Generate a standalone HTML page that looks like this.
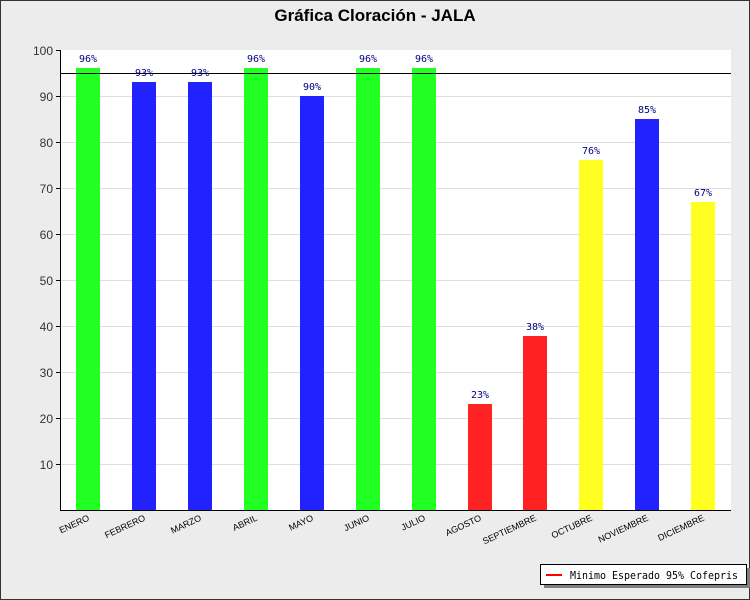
<!DOCTYPE html>
<html><head><style>
html,body{margin:0;padding:0;width:750px;height:600px;background:#ececec;overflow:hidden}
svg{display:block}
</style></head><body>
<svg width="750" height="600" xmlns="http://www.w3.org/2000/svg" font-family="Liberation Sans, sans-serif">
<rect x="0" y="0" width="750" height="600" fill="#ececec"/>
<rect x="0.5" y="0.5" width="749" height="599" fill="none" stroke="#333"/>
<text x="375" y="21" text-anchor="middle" font-size="17" font-weight="bold" fill="#000">Gráfica Cloración - JALA</text>
<rect x="60" y="50" width="671" height="460" fill="#fff"/>
<g stroke="#ddd" stroke-width="1">
<line x1="60" x2="731" y1="96.5" y2="96.5"/><line x1="60" x2="731" y1="142.5" y2="142.5"/>
<line x1="60" x2="731" y1="188.5" y2="188.5"/><line x1="60" x2="731" y1="234.5" y2="234.5"/>
<line x1="60" x2="731" y1="280.5" y2="280.5"/><line x1="60" x2="731" y1="326.5" y2="326.5"/>
<line x1="60" x2="731" y1="372.5" y2="372.5"/><line x1="60" x2="731" y1="418.5" y2="418.5"/>
<line x1="60" x2="731" y1="464.5" y2="464.5"/>
</g>
<g>
<rect x="76" y="68" width="24" height="442" fill="#22ff22"/>
<rect x="132" y="82" width="24" height="428" fill="#2222ff"/>
<rect x="188" y="82" width="24" height="428" fill="#2222ff"/>
<rect x="244" y="68" width="24" height="442" fill="#22ff22"/>
<rect x="300" y="96" width="24" height="414" fill="#2222ff"/>
<rect x="356" y="68" width="24" height="442" fill="#22ff22"/>
<rect x="412" y="68" width="24" height="442" fill="#22ff22"/>
<rect x="468" y="404" width="24" height="106" fill="#ff2222"/>
<rect x="523" y="336" width="24" height="174" fill="#ff2222"/>
<rect x="579" y="160" width="24" height="350" fill="#ffff22"/>
<rect x="635" y="119" width="24" height="391" fill="#2222ff"/>
<rect x="691" y="202" width="24" height="308" fill="#ffff22"/>
</g>
<line x1="60" x2="731" y1="73.5" y2="73.5" stroke="#000" stroke-width="1"/>
<g font-size="10" fill="#000080" text-anchor="middle" font-family="DejaVu Sans Mono, monospace">
<text x="88" y="62">96%</text><text x="144" y="76">93%</text><text x="200" y="76">93%</text>
<text x="256" y="62">96%</text><text x="312" y="90">90%</text><text x="368" y="62">96%</text>
<text x="424" y="62">96%</text><text x="480" y="398">23%</text><text x="535" y="330">38%</text>
<text x="591" y="154">76%</text><text x="647" y="113">85%</text><text x="703" y="196">67%</text>
</g>
<line x1="60.5" y1="50" x2="60.5" y2="510" stroke="#000"/>
<line x1="60" y1="510.5" x2="731" y2="510.5" stroke="#000"/>
<g stroke="#000">
<line x1="56" x2="60" y1="50.5" y2="50.5"/><line x1="56" x2="60" y1="96.5" y2="96.5"/>
<line x1="56" x2="60" y1="142.5" y2="142.5"/><line x1="56" x2="60" y1="188.5" y2="188.5"/>
<line x1="56" x2="60" y1="234.5" y2="234.5"/><line x1="56" x2="60" y1="280.5" y2="280.5"/>
<line x1="56" x2="60" y1="326.5" y2="326.5"/><line x1="56" x2="60" y1="372.5" y2="372.5"/>
<line x1="56" x2="60" y1="418.5" y2="418.5"/><line x1="56" x2="60" y1="464.5" y2="464.5"/>
</g>
<g font-size="12" fill="#333" text-anchor="end">
<text x="53" y="55">100</text><text x="53" y="101">90</text><text x="53" y="147">80</text>
<text x="53" y="193">70</text><text x="53" y="239">60</text><text x="53" y="285">50</text>
<text x="53" y="331">40</text><text x="53" y="377">30</text><text x="53" y="423">20</text>
<text x="53" y="469">10</text>
</g>
<g font-size="9" fill="#000" text-anchor="end">
<text transform="translate(90,520) rotate(-25)">ENERO</text>
<text transform="translate(146,520) rotate(-25)">FEBRERO</text>
<text transform="translate(202,520) rotate(-25)">MARZO</text>
<text transform="translate(258,520) rotate(-25)">ABRIL</text>
<text transform="translate(314,520) rotate(-25)">MAYO</text>
<text transform="translate(370,520) rotate(-25)">JUNIO</text>
<text transform="translate(426,520) rotate(-25)">JULIO</text>
<text transform="translate(482,520) rotate(-25)">AGOSTO</text>
<text transform="translate(537,520) rotate(-25)">SEPTIEMBRE</text>
<text transform="translate(593,520) rotate(-25)">OCTUBRE</text>
<text transform="translate(649,520) rotate(-25)">NOVIEMBRE</text>
<text transform="translate(705,520) rotate(-25)">DICIEMBRE</text>
</g>
<rect x="544" y="568" width="206" height="20" fill="#808080"/>
<rect x="540.5" y="564.5" width="206" height="20" fill="#fff" stroke="#000"/>
<line x1="546" x2="562" y1="575" y2="575" stroke="#ff0000" stroke-width="2"/>
<text x="570" y="579" font-size="11" font-family="DejaVu Sans Mono, monospace" fill="#000" textLength="168" lengthAdjust="spacingAndGlyphs">Minimo Esperado 95% Cofepris</text>
</svg>
</body></html>
